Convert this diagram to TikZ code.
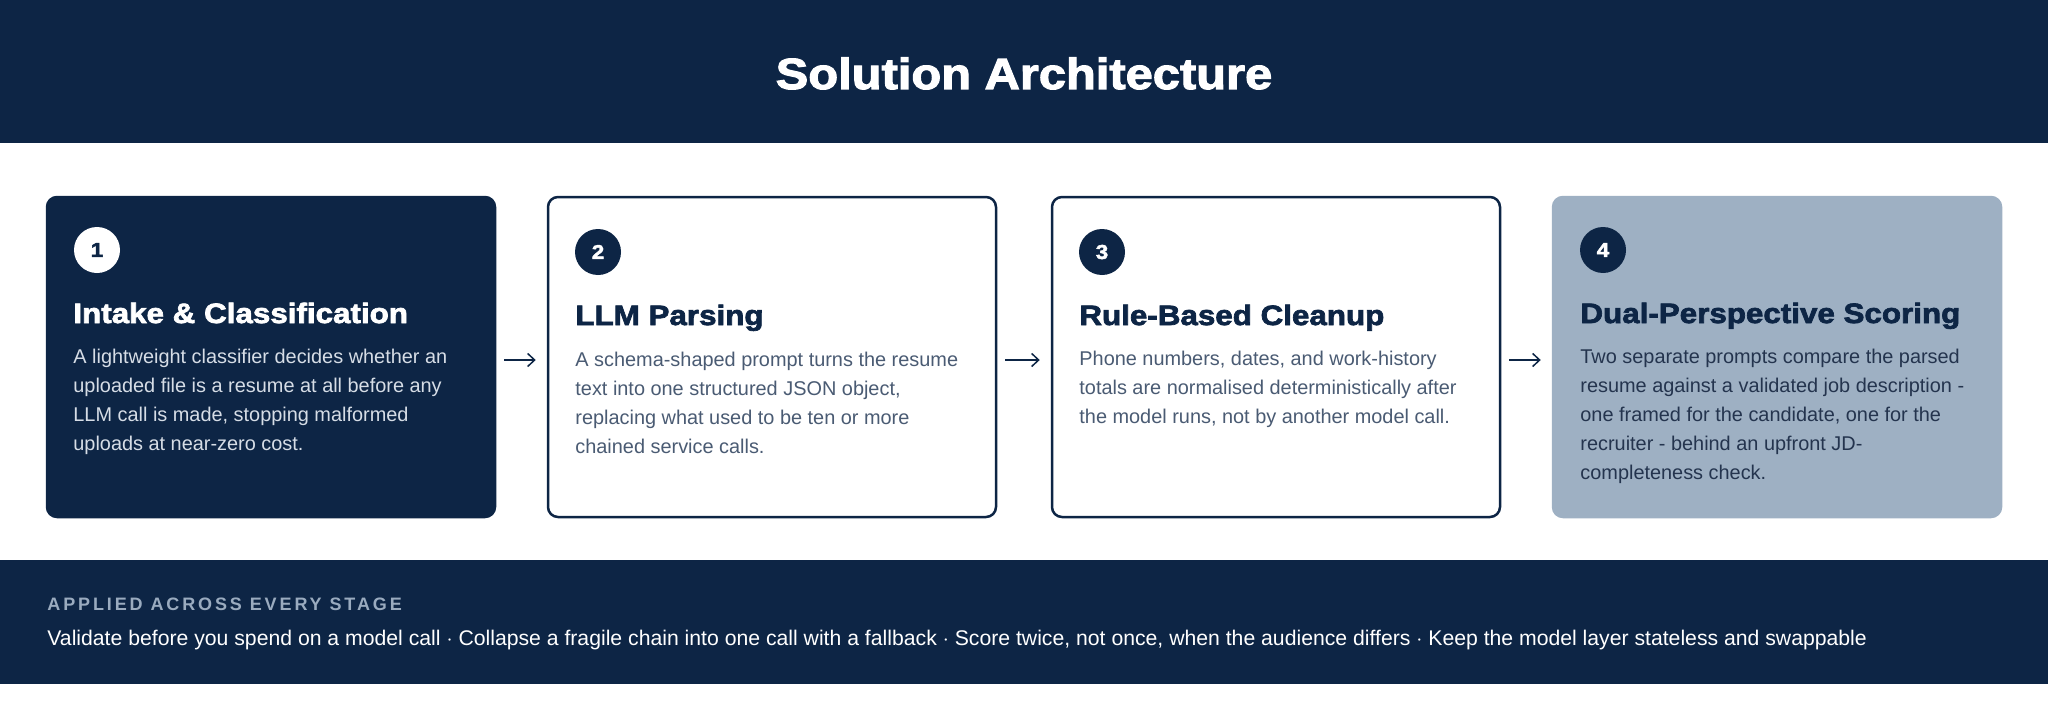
\documentclass[tikz,border=0pt]{standalone}
\usepackage{fontspec}
\setmainfont{Liberation Sans}
\newfontfamily\heavyfont[FakeBold=2.5, FakeStretch=1.12]{Liberation Sans Bold}
\newfontfamily\capsfont[LetterSpace=16]{Liberation Sans Bold}
\usetikzlibrary{arrows.meta}
\definecolor{ARCnavy}{RGB}{13, 37, 69}
\definecolor{ARCslate}{RGB}{158, 176, 195}
\definecolor{ARCgrey}{RGB}{74, 91, 115}
\definecolor{ARClight}{RGB}{214, 221, 230}
\definecolor{ARClabel}{RGB}{154, 171, 191}
\definecolor{ARCink}{RGB}{36, 52, 78}

\begin{document}
\begin{tikzpicture}[x=0.5pt, y=-0.5pt,
	card/.style={rounded corners=5pt, line width=1.25pt, minimum width=224pt, minimum height=160pt, inner sep=0pt},
	badge/.style={circle, minimum size=23pt, inner sep=0pt, font=\heavyfont\fontsize{10pt}{10pt}\selectfont},
	heading/.style={anchor=base west, inner sep=0pt, font=\heavyfont\fontsize{14pt}{14pt}\selectfont},
	body/.style={anchor=north west, inner sep=0pt, align=left, font=\fontsize{9.95pt}{14.5pt}\selectfont},
	flow/.style={line width=0.75pt, ARCnavy, -{Straight Barb[length=3.5pt, width=6.5pt]}, shorten <=4pt, shorten >=5.5pt}]
	\useasboundingbox (0,0) rectangle (2048,701);
	\fill[ARCnavy] (0,0) rectangle (2048,143);
	\node[anchor=base, inner sep=0pt, white, font=\heavyfont\fontsize{21.8pt}{22pt}\selectfont] (title) at (1024,89) {Solution Architecture};
	\node[card, fill=ARCnavy, draw=ARCnavy] (c1) at (271,357) {};
	\node[card, fill=white, draw=ARCnavy] (c2) at (772,357) {};
	\node[card, fill=white, draw=ARCnavy] (c3) at (1276,357) {};
	\node[card, fill=ARCslate, draw=ARCslate] (c4) at (1777,357) {};
	\node[badge, fill=white, text=ARCnavy] (n1) at (97,250) {1};
	\node[badge, fill=ARCnavy, text=white] (n2) at (598,252) {2};
	\node[badge, fill=ARCnavy, text=white] (n3) at (1102,252) {3};
	\node[badge, fill=ARCnavy, text=white] (n4) at (1603,250) {4};
	\node[heading, white] (t1) at (73,323) {Intake \& Classification};
	\node[heading, ARCnavy] (t2) at (575,325) {LLM Parsing};
	\node[heading, ARCnavy] (t3) at (1079,325) {Rule-Based Cleanup};
	\node[heading, ARCnavy] (t4) at (1580,323) {Dual-Perspective Scoring};
	\node[body, ARClight] (b1) at (73,349) {A lightweight classifier decides whether an\\uploaded file is a resume at all before any\\LLM call is made, stopping malformed\\uploads at near-zero cost.};
	\node[body, ARCgrey] (b2) at (575,352) {A schema-shaped prompt turns the resume\\text into one structured JSON object,\\replacing what used to be ten or more\\chained service calls.};
	\node[body, ARCgrey] (b3) at (1079,351) {Phone numbers, dates, and work-history\\totals are normalised deterministically after\\the model runs, not by another model call.};
	\node[body, ARCink] (b4) at (1580,349) {Two separate prompts compare the parsed\\resume against a validated job description -\\one framed for the candidate, one for the\\recruiter - behind an upfront JD-\\completeness check.};
	\draw[flow] ([yshift=-1.5pt]c1.east) -- ([yshift=-1.5pt]c2.west);
	\draw[flow] ([yshift=-1.5pt]c2.east) -- ([yshift=-1.5pt]c3.west);
	\draw[flow] ([yshift=-1.5pt]c3.east) -- ([yshift=-1.5pt]c4.west);
	\fill[ARCnavy] (0,560) rectangle (2048,684);
	\node[anchor=base west, inner sep=0pt, ARClabel, font=\capsfont\fontsize{9pt}{9pt}\selectfont] (lbl) at (47,610) {APPLIED ACROSS EVERY STAGE};
	\node[anchor=base west, inner sep=0pt, white, font=\fontsize{10.6pt}{10.6pt}\selectfont] (rules) at (47,645) {Validate before you spend on a model call $\cdot$ Collapse a fragile chain into one call with a fallback $\cdot$ Score twice, not once, when the audience differs $\cdot$ Keep the model layer stateless and swappable};
\end{tikzpicture}
\end{document}
